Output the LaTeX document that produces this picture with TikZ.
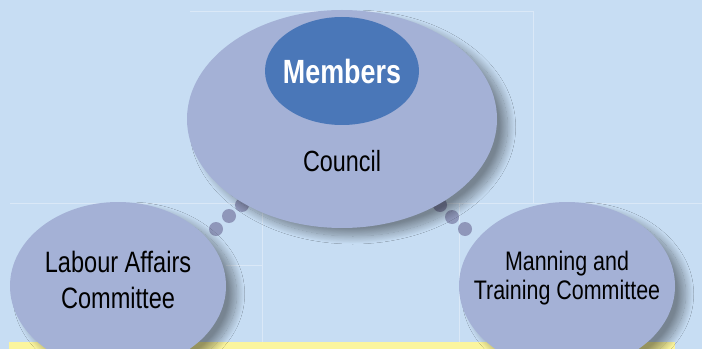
\documentclass[tikz,border=0pt]{standalone}
\usepackage{fontspec}
\setmainfont{Liberation Sans}[FakeStretch=0.8]
\usetikzlibrary{shapes.geometric,shadows.blur}

\definecolor{bgblue}{RGB}{199,221,243}
\definecolor{ovalfill}{RGB}{164,177,214}
\definecolor{memberfill}{RGB}{74,119,184}
\definecolor{dotfill}{RGB}{143,151,186}
\definecolor{barfill}{RGB}{251,245,158}

\begin{document}
\begin{tikzpicture}[x=0.75pt,y=0.75pt,yscale=-1,xscale=1,
  oval/.style={ellipse,fill=ovalfill,inner sep=0pt,
    blur shadow={shadow xshift=8pt,shadow yshift=-6pt,shadow blur radius=6pt,shadow blur steps=20,shadow opacity=40}},
  dot/.style={fill=dotfill},
  panel/.style={white,opacity=0.35,line width=0.6pt}]
\useasboundingbox (0,0) rectangle (702,349);

%background
\fill [bgblue] (0,0) rectangle (702,349);
\draw [panel] (10,203) -- (702,203) ;
\draw [panel] (262,203) -- (262,349) ;
\draw [panel] (459,203) -- (459,349) ;
\draw [panel] (190,11) -- (533,11) -- (533,203) ;
\draw [panel] (226,265) -- (262,265) ;

%yellow bar
\fill [barfill] (9,342) rectangle (675,349);

%dots between the ovals
\foreach \x/\y in {242/205,229/216,216/229,440/205,452/217,465/229}
  \fill [dot] (\x,\y) circle (7);

%Ellipses
\node [oval,minimum width=232.5pt,minimum height=163.5pt] (council) at (342,119) {};
\node [ellipse,fill=memberfill,inner sep=0pt,minimum width=115.5pt,minimum height=81pt] (members) at (342,71) {};
\node [oval,minimum width=162pt,minimum height=126pt] (labour) at (118,286) {};
\node [oval,minimum width=162pt,minimum height=126pt] (manning) at (567,286) {};

% Text Node
\draw (342,71) node [inner sep=0.75pt,text=white,font=\fontsize{25.2}{30}\selectfont\bfseries] (memberstext) {Members};
% Text Node
\draw (342,161) node [inner sep=0.75pt,font=\fontsize{21.9}{26}\selectfont] (counciltext) {Council};
% Text Node
\draw (118,280) node [inner sep=0.75pt,align=center,font=\fontsize{22.1}{27}\selectfont] (labourtext) {Labour Affairs\\Committee};
% Text Node
\draw (567,278) node [inner sep=0.75pt,align=center,font=\fontsize{20.1}{21.4}\selectfont] (manningtext) {Manning and\\Training Committee};

\end{tikzpicture}
\end{document}
